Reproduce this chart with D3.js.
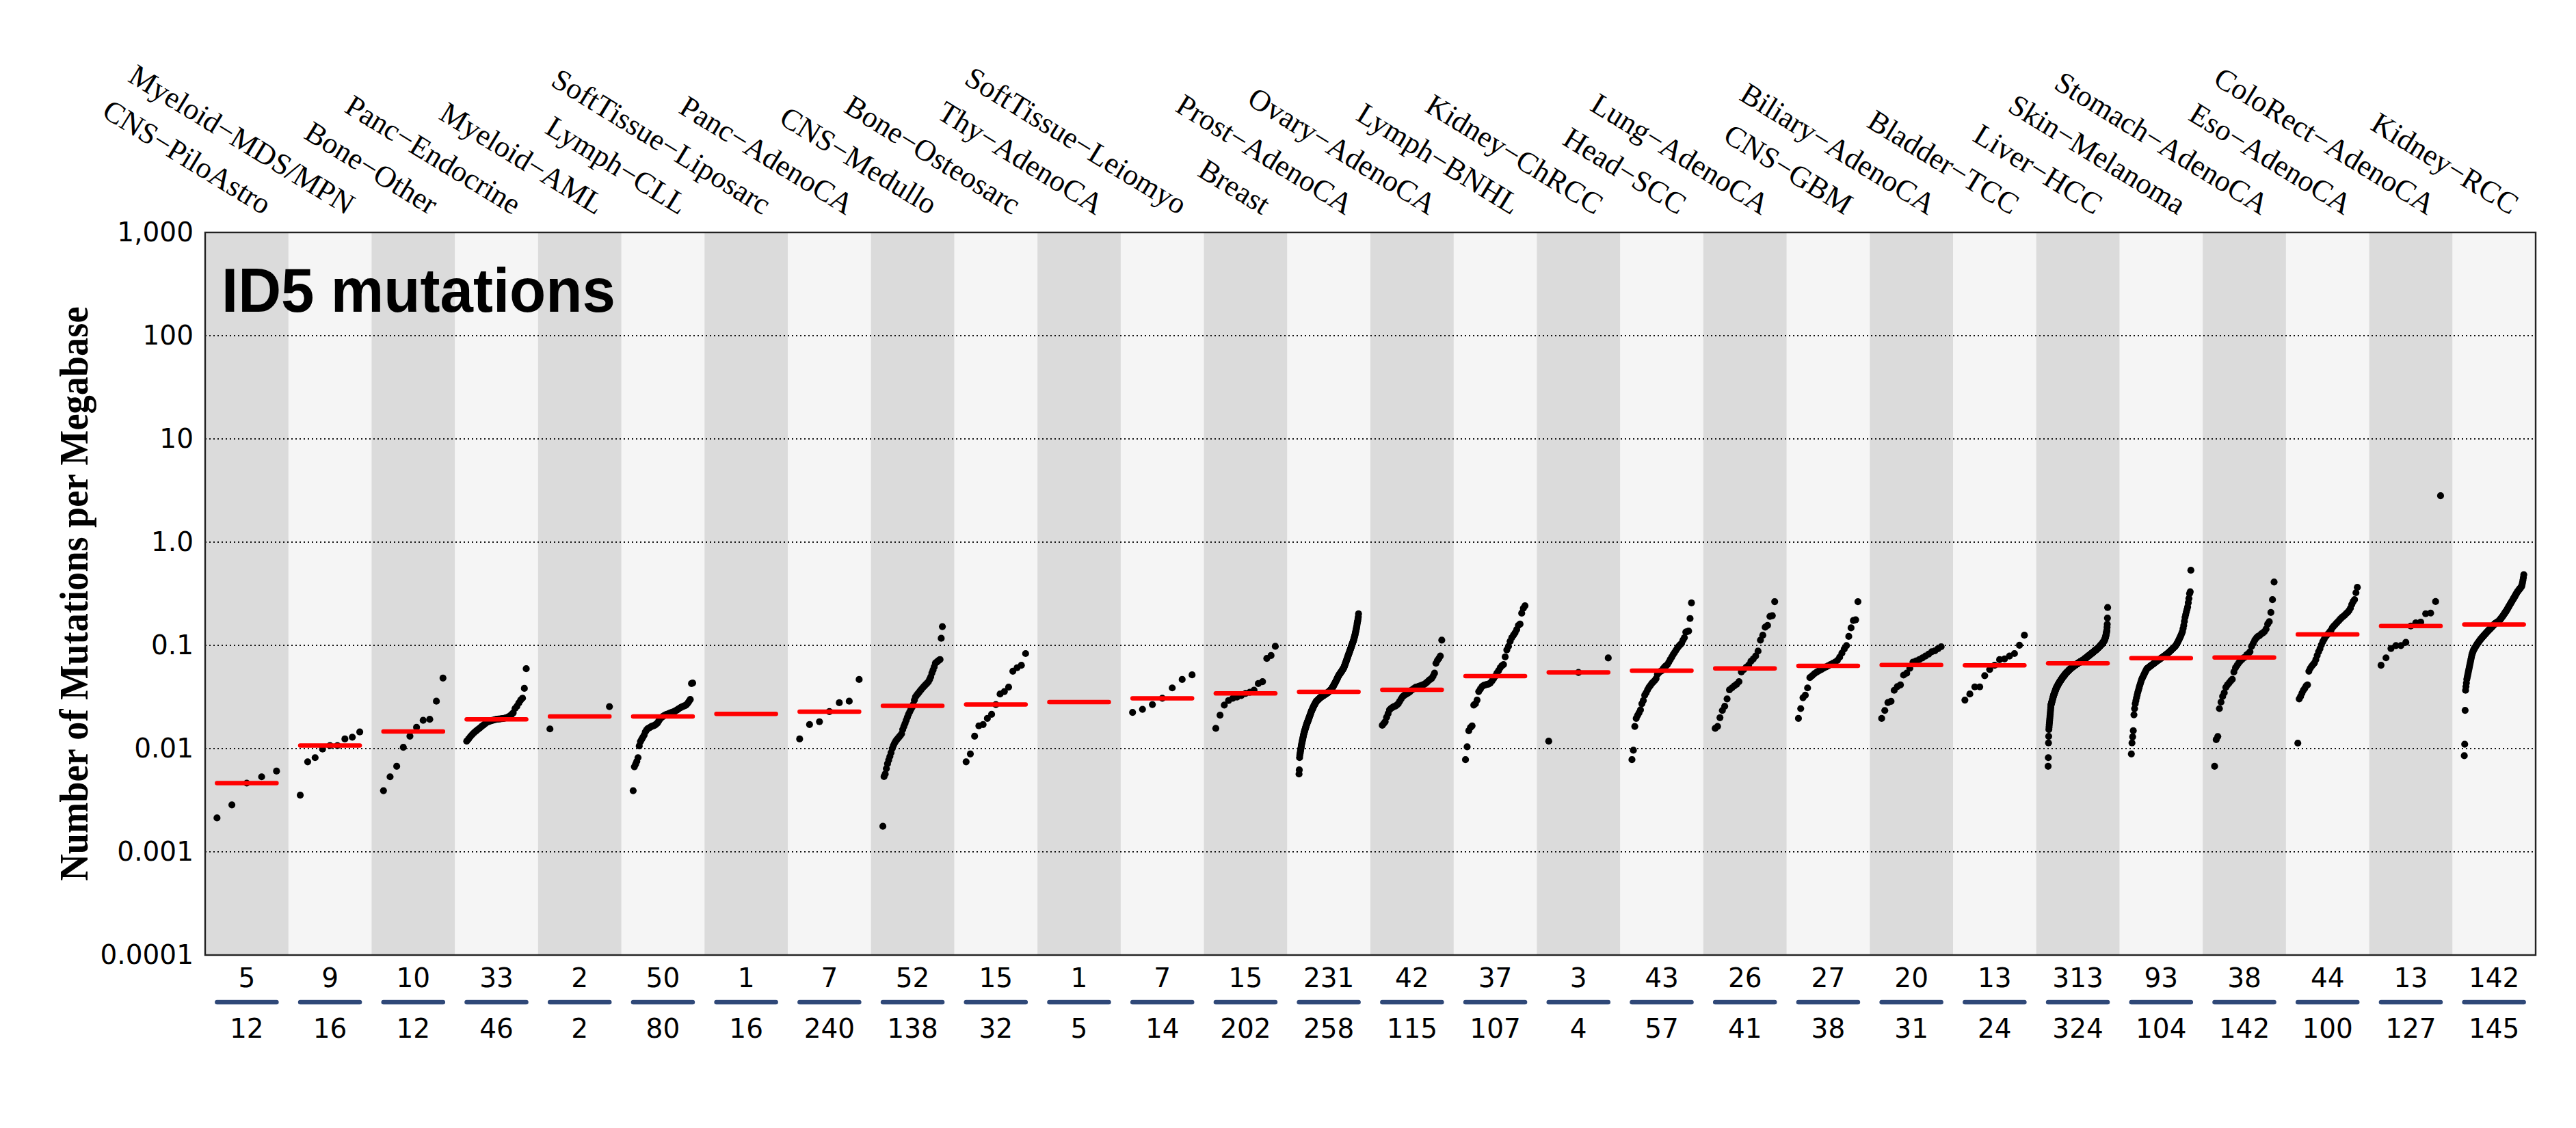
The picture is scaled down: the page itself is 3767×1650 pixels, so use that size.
<!DOCTYPE html>
<html><head><meta charset="utf-8">
<script src="https://cdn.jsdelivr.net/npm/d3@7"></script>
<style>html,body{margin:0;padding:0;background:#fff;}svg{display:block}</style>
</head><body>
<svg id="chart" width="3767" height="1650"></svg>
<script>
const categories = ["CNS−PiloAstro","Myeloid−MDS/MPN","Bone−Other","Panc−Endocrine","Myeloid−AML","Lymph−CLL","SoftTissue−Liposarc","Panc−AdenoCA","CNS−Medullo","Bone−Osteosarc","Thy−AdenoCA","SoftTissue−Leiomyo","Breast","Prost−AdenoCA","Ovary−AdenoCA","Lymph−BNHL","Kidney−ChRCC","Head−SCC","Lung−AdenoCA","CNS−GBM","Biliary−AdenoCA","Bladder−TCC","Liver−HCC","Skin−Melanoma","Stomach−AdenoCA","Eso−AdenoCA","ColoRect−AdenoCA","Kidney−RCC"];
const withSignature = [5,9,10,33,2,50,1,7,52,15,1,7,15,231,42,37,3,43,26,27,20,13,313,93,38,44,13,142];
const totalSamples = [12,16,12,46,2,80,16,240,138,32,5,14,202,258,115,107,4,57,41,38,31,24,324,104,142,100,127,145];
const yTickValues = [0.0001,0.001,0.01,0.1,1,10,100,1000];
const yTickLabels = ["0.0001","0.001","0.01","0.1","1.0","10","100","1,000"];
const gridValues = [0.001,0.01,0.1,1,10,100];
const titleText = "ID5 mutations";
const yAxisTitle = "Number of Mutations per Megabase";

const cnsPiloAstro = [0.00213,0.00285,0.00463,0.00533,0.00605];
const myeloidMds = [0.00354,0.00745,0.00817,0.0099,0.0107,0.0107,0.0124,0.0129,0.0145];
const boneOther = [0.00391,0.00533,0.00675,0.0103,0.0132,0.0161,0.0188,0.0192,0.0288,0.0482];
const pancEndocrine = [0.0118,0.0124,0.0131,0.0137,0.0143,0.0148,0.0153,0.0158,0.0164,0.0169,0.0175,0.0180,0.0183,0.0186,0.0188,0.0190,0.0192,0.0193,0.0194,0.0195,0.0196,0.0198,0.0201,0.0206,0.0213,0.0222,0.0245,0.0257,0.0276,0.0295,0.0308,0.0383,0.0594];
const myeloidAml = [0.0155,0.0255];
const lymphCll = [0.00391,0.00667,0.00705,0.00753,0.00817,0.0106,0.0117,0.0123,0.0129,0.0135,0.0145,0.0151,0.0156,0.0158,0.0161,0.0164,0.0165,0.0167,0.0169,0.0173,0.0177,0.0185,0.0193,0.0199,0.0203,0.0207,0.0210,0.0213,0.0215,0.0217,0.0220,0.0222,0.0224,0.0227,0.0229,0.0233,0.0236,0.0241,0.0245,0.0249,0.0253,0.0256,0.0259,0.0262,0.0267,0.0276,0.0287,0.0299,0.0427,0.0432];
const softTissueLiposarc = [0.0217];
const pancAdenoCA = [0.0124,0.0171,0.0182,0.0228,0.0278,0.0288,0.0467];
const cnsMedullo = [0.00177,0.00536,0.00567,0.00639,0.00713,0.00774,0.00839,0.00911,0.0100,0.0107,0.0113,0.0118,0.0122,0.0126,0.0130,0.0134,0.0139,0.0153,0.0164,0.0175,0.0188,0.0201,0.0215,0.0227,0.0240,0.0251,0.0267,0.0295,0.0317,0.0329,0.0340,0.0351,0.0363,0.0375,0.0387,0.0398,0.0409,0.0421,0.0432,0.0444,0.0467,0.0496,0.0539,0.0576,0.0619,0.0672,0.0686,0.0701,0.0717,0.0729,0.117,0.152];
const boneOsteosarc = [0.00745,0.00887,0.0132,0.0166,0.0171,0.0196,0.0215,0.0267,0.0338,0.0357,0.0394,0.0562,0.0607,0.0641,0.0833];
const thyAdenoCA = [0.0282];
const softTissueLeiomyo = [0.0224,0.0240,0.0267,0.0307,0.0387,0.0467,0.0518];
const breast = [0.0157,0.0211,0.0264,0.0292,0.0307,0.0316,0.0326,0.0342,0.0351,0.0368,0.0426,0.0445,0.0747,0.0798,0.0979];
const prostAdenoCA = [0.00567,0.00622,0.00817,0.00863,0.00894,0.00926,0.00959,0.00993,0.01028,0.01065,
0.01103,0.01134,0.01165,0.01197,0.01231,0.01265,0.01300,0.01336,0.01373,0.01411,
0.01438,0.01466,0.01494,0.01523,0.01553,0.01583,0.01613,0.01644,0.01676,0.01708,
0.01734,0.01761,0.01788,0.01815,0.01843,0.01871,0.01900,0.01929,0.01958,0.01990,
0.02023,0.02057,0.02091,0.02125,0.02160,0.02196,0.02232,0.02269,0.02307,0.02336,
0.02365,0.02395,0.02425,0.02456,0.02487,0.02518,0.02550,0.02582,0.02616,0.02643,
0.02671,0.02698,0.02726,0.02755,0.02783,0.02812,0.02841,0.02870,0.02886,0.02902,
0.02918,0.02934,0.02950,0.02966,0.02982,0.02998,0.03015,0.03031,0.03046,0.03061,
0.03076,0.03091,0.03106,0.03121,0.03136,0.03151,0.03166,0.03178,0.03190,0.03203,
0.03215,0.03227,0.03240,0.03252,0.03264,0.03277,0.03289,0.03301,0.03313,0.03325,
0.03337,0.03349,0.03362,0.03374,0.03386,0.03398,0.03413,0.03428,0.03443,0.03458,
0.03473,0.03488,0.03504,0.03519,0.03534,0.03550,0.03569,0.03589,0.03609,0.03628,
0.03648,0.03668,0.03688,0.03709,0.03729,0.03751,0.03788,0.03825,0.03862,0.03900,
0.03938,0.03976,0.04015,0.04054,0.04094,0.04139,0.04184,0.04230,0.04277,0.04324,
0.04371,0.04419,0.04468,0.04517,0.04567,0.04623,0.04679,0.04736,0.04794,0.04853,
0.04912,0.04972,0.05033,0.05094,0.05136,0.05178,0.05221,0.05264,0.05307,0.05351,
0.05395,0.05439,0.05484,0.05529,0.05581,0.05633,0.05685,0.05738,0.05792,0.05846,
0.05900,0.05955,0.06010,0.06066,0.06163,0.06261,0.06360,0.06462,0.06565,0.06669,
0.06775,0.06883,0.06992,0.07108,0.07225,0.07345,0.07466,0.07590,0.07715,0.07843,
0.07972,0.08104,0.08234,0.08370,0.08508,0.08649,0.08791,0.08937,0.09084,0.09234,
0.09387,0.09546,0.09704,0.09864,0.1003,0.1019,0.1036,0.1053,0.1071,0.1088,
0.1106,0.1125,0.1150,0.1175,0.1201,0.1228,0.1254,0.1289,0.1325,0.1361,
0.1399,0.1438,0.1478,0.1519,0.1583,0.1649,0.1694,0.1741,0.1814,0.1890,
0.2018];
const ovaryAdenoCA = [0.0168,0.0175,0.0182,0.0201,0.0218,0.0237,0.0245,0.0250,0.0255,0.0258,0.0264,0.0272,0.0287,0.0303,0.0318,0.0327,0.0334,0.0340,0.0347,0.0355,0.0367,0.0375,0.0383,0.0392,0.0396,0.0400,0.0405,0.0409,0.0414,0.0420,0.0430,0.0442,0.0456,0.0467,0.0479,0.0503,0.0538,0.0670,0.0715,0.0747,0.0789,0.1124];
const lymphBnhl = [0.00782,0.0104,0.0149,0.0160,0.0166,0.0264,0.0272,0.0295,0.0357,0.0377,0.0398,0.0409,0.0414,0.0418,0.0422,0.0432,0.0451,0.0476,0.0503,0.0538,0.0568,0.0607,0.0634,0.0652,0.0774,0.0903,0.0979,0.1093,0.1187,0.1254,0.1325,0.1424,0.1562,0.1605,0.205,0.229,0.242];
const kidneyChrcc = [0.0118,0.0547,0.0755];
const headScc = [0.00782,0.00963,0.0164,0.0196,0.0210,0.0222,0.0237,0.0272,0.0292,0.0329,0.0347,0.0371,0.0392,0.0409,0.0428,0.0442,0.0456,0.0476,0.0524,0.0544,0.0559,0.0568,0.0594,0.0617,0.0634,0.0652,0.0688,0.0727,0.0767,0.0811,0.0851,0.0894,0.0938,0.0979,0.1012,0.1046,0.1124,0.1187,0.1346,0.1361,0.1376,0.1820,0.258];
const lungAdenoCA = [0.0157,0.0164,0.0199,0.0234,0.0257,0.0303,0.0371,0.0387,0.0405,0.0420,0.0445,0.0552,0.0584,0.0613,0.0641,0.0700,0.0739,0.0789,0.0880,0.1124,0.1254,0.150,0.156,0.191,0.194,0.265];
const cnsGbm = [0.0196,0.0244,0.0311,0.0329,0.0387,0.0487,0.0509,0.0532,0.0550,0.0568,0.0584,0.0600,0.0617,0.0634,0.0652,0.0670,0.0688,0.0715,0.0767,0.0842,0.0921,0.0995,0.1220,0.1478,0.1739,0.1768,0.265];
const biliaryAdenoCA = [0.0196,0.0234,0.0279,0.0287,0.0367,0.0398,0.0414,0.0515,0.0538,0.0600,0.0688,0.0706,0.0727,0.0755,0.0789,0.0823,0.0866,0.0885,0.0928,0.0970];
const bladderTcc = [0.0295,0.0338,0.0396,0.0396,0.0509,0.0584,0.0641,0.0727,0.0739,0.0789,0.0833,0.1003,0.1254];
const liverHcc = [0.00675,0.00817,0.01134,0.01314,0.01532,0.01618,0.01708,0.01792,0.01879,0.01971,
0.02068,0.02172,0.02282,0.02397,0.02517,0.02644,0.02686,0.02728,0.02771,0.02814,
0.02859,0.02904,0.02949,0.02996,0.03043,0.03091,0.03139,0.03189,0.03239,0.03289,
0.03328,0.03367,0.03407,0.03448,0.03488,0.03530,0.03571,0.03614,0.03656,0.03700,
0.03744,0.03788,0.03834,0.03865,0.03896,0.03927,0.03959,0.03991,0.04023,0.04055,
0.04088,0.04121,0.04154,0.04187,0.04221,0.04255,0.04289,0.04324,0.04352,0.04380,
0.04408,0.04437,0.04465,0.04494,0.04523,0.04552,0.04582,0.04611,0.04641,0.04671,
0.04701,0.04732,0.04762,0.04793,0.04824,0.04850,0.04877,0.04904,0.04930,0.04957,
0.04985,0.05012,0.05039,0.05067,0.05095,0.05122,0.05150,0.05179,0.05207,0.05236,
0.05264,0.05293,0.05322,0.05351,0.05380,0.05403,0.05427,0.05450,0.05474,0.05497,
0.05521,0.05545,0.05569,0.05593,0.05617,0.05641,0.05666,0.05690,0.05715,0.05740,
0.05764,0.05789,0.05814,0.05839,0.05860,0.05881,0.05902,0.05923,0.05944,0.05965,
0.05986,0.06007,0.06029,0.06050,0.06072,0.06093,0.06115,0.06137,0.06159,0.06181,
0.06203,0.06225,0.06247,0.06268,0.06286,0.06304,0.06322,0.06340,0.06358,0.06376,
0.06394,0.06412,0.06430,0.06449,0.06467,0.06486,0.06504,0.06523,0.06541,0.06560,
0.06579,0.06597,0.06616,0.06635,0.06654,0.06673,0.06692,0.06710,0.06728,0.06745,
0.06763,0.06781,0.06799,0.06817,0.06835,0.06853,0.06871,0.06889,0.06907,0.06926,
0.06944,0.06963,0.06981,0.07000,0.07018,0.07037,0.07055,0.07074,0.07093,0.07112,
0.07130,0.07149,0.07168,0.07187,0.07206,0.07224,0.07248,0.07273,0.07297,0.07322,
0.07346,0.07371,0.07396,0.07421,0.07446,0.07471,0.07496,0.07521,0.07546,0.07572,
0.07597,0.07623,0.07648,0.07674,0.07700,0.07726,0.07752,0.07778,0.07804,0.07830,
0.07857,0.07883,0.07910,0.07936,0.07963,0.07990,0.08017,0.08044,0.08071,0.08098,
0.08125,0.08153,0.08180,0.08208,0.08235,0.08263,0.08291,0.08319,0.08347,0.08375,
0.08403,0.08432,0.08460,0.08489,0.08517,0.08546,0.08575,0.08606,0.08637,0.08668,
0.08699,0.08730,0.08761,0.08792,0.08824,0.08855,0.08887,0.08919,0.08951,0.08983,
0.09015,0.09047,0.09080,0.09112,0.09145,0.09177,0.09210,0.09243,0.09276,0.09309,
0.09343,0.09376,0.09410,0.09444,0.09488,0.09532,0.09576,0.09621,0.09666,0.09711,
0.09756,0.09801,0.09847,0.09893,0.09939,0.09985,0.1003,0.1008,0.1013,0.1017,
0.1022,0.1027,0.1031,0.1036,0.1043,0.1049,0.1056,0.1062,0.1069,0.1076,
0.1083,0.1089,0.1096,0.1103,0.1110,0.1117,0.1125,0.1140,0.1156,0.1172,
0.1188,0.1204,0.1221,0.1249,0.1278,0.1307,0.1337,0.1368,0.1399,0.1500,
0.1604,0.1839,0.2326];
const skinMelanoma = [0.00887,0.01134,0.01300,0.01490,0.02125,0.02436,0.02717,0.02909,0.03114,0.03307,
0.03512,0.03696,0.03890,0.04094,0.04285,0.04484,0.04693,0.04836,0.04984,0.05136,
0.05292,0.05446,0.05605,0.05768,0.05935,0.06000,0.06066,0.06133,0.06200,0.06268,
0.06337,0.06406,0.06477,0.06548,0.06620,0.06692,0.06766,0.06840,0.06915,0.06991,
0.07068,0.07139,0.07211,0.07283,0.07356,0.07430,0.07505,0.07580,0.07656,0.07733,
0.07811,0.07889,0.07969,0.08064,0.08160,0.08257,0.08355,0.08454,0.08555,0.08673,
0.08793,0.08915,0.09038,0.09163,0.09290,0.09417,0.09546,0.09677,0.09810,0.1005,
0.1030,0.1056,0.1082,0.1115,0.1149,0.1185,0.1221,0.1266,0.1313,0.1362,
0.1458,0.1561,0.1708,0.1869,0.1985,0.2108,0.2226,0.2351,0.2587,0.2846,
0.3175,0.3300,0.5335];
const stomachAdenoCA = [0.00675,0.0122,0.0131,0.0244,0.0282,0.0320,0.0347,0.0392,0.0414,0.0432,0.0451,0.0469,0.0552,0.0607,0.0641,0.0676,0.0706,0.0730,0.0755,0.0771,0.0811,0.0833,0.0866,0.0979,0.1046,0.1124,0.1180,0.1220,0.1247,0.1290,0.1318,0.1361,0.1439,0.1605,0.1693,0.2085,0.2770,0.4109];
const esoAdenoCA = [0.0113,0.0303,0.0320,0.0344,0.0367,0.0383,0.0405,0.0414,0.0562,0.0600,0.0628,0.0652,0.0676,0.0727,0.0798,0.0866,0.0928,0.1011,0.1085,0.1146,0.1211,0.1258,0.1293,0.1350,0.1403,0.1482,0.1539,0.1591,0.1644,0.1699,0.1756,0.1814,0.1875,0.1916,0.1969,0.2035,0.2091,0.2172,0.2295,0.2489,0.2658,0.2777,0.3235,0.3648];
const coloRectAdenoCA = [0.0642,0.0757,0.0931,0.0995,0.0995,0.1068,0.1539,0.1653,0.1680,0.2024,0.2056,0.2658,2.816];
const kidneyRcc = [0.00853,0.01103,0.02345,0.03670,0.03983,0.04324,0.04693,0.04912,0.05141,0.05380,
0.05631,0.05893,0.06166,0.06454,0.06755,0.07068,0.07398,0.07743,0.08101,0.08325,
0.08556,0.08793,0.09035,0.09177,0.09322,0.09469,0.09618,0.09769,0.09923,0.1008,
0.1022,0.1035,0.1049,0.1063,0.1078,0.1092,0.1107,0.1122,0.1137,0.1149,
0.1162,0.1175,0.1188,0.1201,0.1214,0.1227,0.1241,0.1254,0.1267,0.1280,
0.1293,0.1307,0.1320,0.1334,0.1348,0.1362,0.1376,0.1389,0.1403,0.1417,
0.1430,0.1444,0.1458,0.1472,0.1487,0.1502,0.1517,0.1532,0.1547,0.1562,
0.1578,0.1604,0.1614,0.1624,0.1634,0.1644,0.1655,0.1665,0.1675,0.1686,
0.1696,0.1707,0.1717,0.1738,0.1759,0.1781,0.1802,0.1824,0.1847,0.1869,
0.1892,0.1916,0.1943,0.1970,0.1998,0.2026,0.2054,0.2083,0.2113,0.2142,
0.2172,0.2208,0.2244,0.2281,0.2319,0.2357,0.2396,0.2436,0.2477,0.2518,
0.2558,0.2599,0.2640,0.2682,0.2725,0.2768,0.2812,0.2857,0.2902,0.2950,
0.2999,0.3048,0.3099,0.3150,0.3202,0.3255,0.3308,0.3348,0.3387,0.3428,
0.3469,0.3510,0.3553,0.3599,0.3645,0.3693,0.3741,0.3897,0.4060,0.4288,
0.4529,0.4836];

const seriesValues = [cnsPiloAstro,myeloidMds,boneOther,pancEndocrine,myeloidAml,lymphCll,softTissueLiposarc,pancAdenoCA,cnsMedullo,boneOsteosarc,thyAdenoCA,softTissueLeiomyo,breast,prostAdenoCA,ovaryAdenoCA,lymphBnhl,kidneyChrcc,headScc,lungAdenoCA,cnsGbm,biliaryAdenoCA,bladderTcc,liverHcc,skinMelanoma,stomachAdenoCA,esoAdenoCA,coloRectAdenoCA,kidneyRcc];

const plot = {left:300, right:3708, top:340, bottom:1397};
const svg = d3.select("#chart");
svg.append("rect").attr("width",3767).attr("height",1650).attr("fill","#ffffff");

const x = d3.scaleBand().domain(categories).range([plot.left, plot.right]).padding(0);
const y = d3.scaleLog().domain([1e-4, 1e3]).range([plot.bottom, plot.top]);
const bw = x.bandwidth();
const half = bw * 0.3575;

// alternating column bands
svg.append("g").selectAll("rect").data(categories).join("rect")
  .attr("x", d => x(d)).attr("y", plot.top)
  .attr("width", bw + 0.6).attr("height", plot.bottom - plot.top)
  .attr("fill", (d, i) => i % 2 === 0 ? "#dbdbdb" : "#f5f5f5");

// dotted grid lines
svg.append("g").selectAll("line").data(gridValues).join("line")
  .attr("x1", plot.left).attr("x2", plot.right)
  .attr("y1", d => y(d)).attr("y2", d => y(d))
  .attr("stroke", "#111").attr("stroke-width", 1.8).attr("stroke-dasharray", "2,4");

// points (a single-sample group is represented by its median bar only)
const ptsG = svg.append("g");
categories.forEach((c, ci) => {
  const vals = seriesValues[ci].slice().sort((a, b) => a - b);
  const n = vals.length;
  if (n < 2) return;
  const cx = x(c) + bw / 2;
  const px = d3.scaleLinear().domain([0, n - 1]).range([cx - half, cx + half]);
  ptsG.append("g").selectAll("circle").data(vals).join("circle")
    .attr("cx", (d, i) => px(i))
    .attr("cy", d => y(d))
    .attr("r", 5.1).attr("fill", "#000");
});

// median lines
svg.append("g").selectAll("line").data(categories).join("line")
  .attr("x1", d => x(d) + bw / 2 - half).attr("x2", d => x(d) + bw / 2 + half)
  .attr("y1", (d, i) => y(d3.median(seriesValues[i])))
  .attr("y2", (d, i) => y(d3.median(seriesValues[i])))
  .attr("stroke", "#ff0000").attr("stroke-width", 6.5).attr("stroke-linecap", "round");

// frame
svg.append("rect").attr("x", plot.left).attr("y", plot.top)
  .attr("width", plot.right - plot.left).attr("height", plot.bottom - plot.top)
  .attr("fill", "none").attr("stroke", "#222").attr("stroke-width", 2.4);

// y axis
const yAxis = d3.axisLeft(y).tickValues(yTickValues)
  .tickFormat((d, i) => yTickLabels[i]).tickSize(0).tickPadding(17);
const yG = svg.append("g").attr("transform", `translate(${plot.left},0)`).call(yAxis);
yG.select(".domain").remove();
yG.selectAll("text").attr("font-family", "DejaVu Sans").attr("font-size", 39).attr("fill", "#000");

// y axis title
svg.append("text").attr("transform", `translate(128,${(plot.top + plot.bottom) / 2}) rotate(-90)`)
  .attr("text-anchor", "middle").attr("font-family", "Liberation Serif").attr("font-weight", "bold")
  .attr("font-size", 60).attr("textLength", 840).attr("lengthAdjust", "spacingAndGlyphs")
  .text(yAxisTitle);

// chart title
svg.append("text").attr("x", 324).attr("y", 456)
  .attr("font-family", "Liberation Sans").attr("font-weight", "bold").attr("font-size", 90)
  .attr("textLength", 576).attr("lengthAdjust", "spacingAndGlyphs")
  .text(titleText);

// category labels (rotated)
svg.append("g").selectAll("text").data(categories).join("text")
  .attr("transform", d => `translate(${x(d) + bw / 2 + 24},315) rotate(31.5)`)
  .attr("text-anchor", "end").attr("font-family", "Liberation Serif").attr("font-size", 44)
  .text(d => d);

// counts below
const bottomG = svg.append("g");
bottomG.selectAll("text.n1").data(categories).join("text").attr("class", "n1")
  .attr("x", d => x(d) + bw / 2).attr("y", 1444).attr("text-anchor", "middle")
  .attr("font-family", "DejaVu Sans").attr("font-size", 39)
  .text((d, i) => withSignature[i]);
bottomG.selectAll("line").data(categories).join("line")
  .attr("x1", d => x(d) + bw / 2 - half).attr("x2", d => x(d) + bw / 2 + half)
  .attr("y1", 1466).attr("y2", 1466)
  .attr("stroke", "#2f4878").attr("stroke-width", 6.5).attr("stroke-linecap", "round");
bottomG.selectAll("text.n2").data(categories).join("text").attr("class", "n2")
  .attr("x", d => x(d) + bw / 2).attr("y", 1518).attr("text-anchor", "middle")
  .attr("font-family", "DejaVu Sans").attr("font-size", 39)
  .text((d, i) => totalSamples[i]);
</script>
</body></html>
